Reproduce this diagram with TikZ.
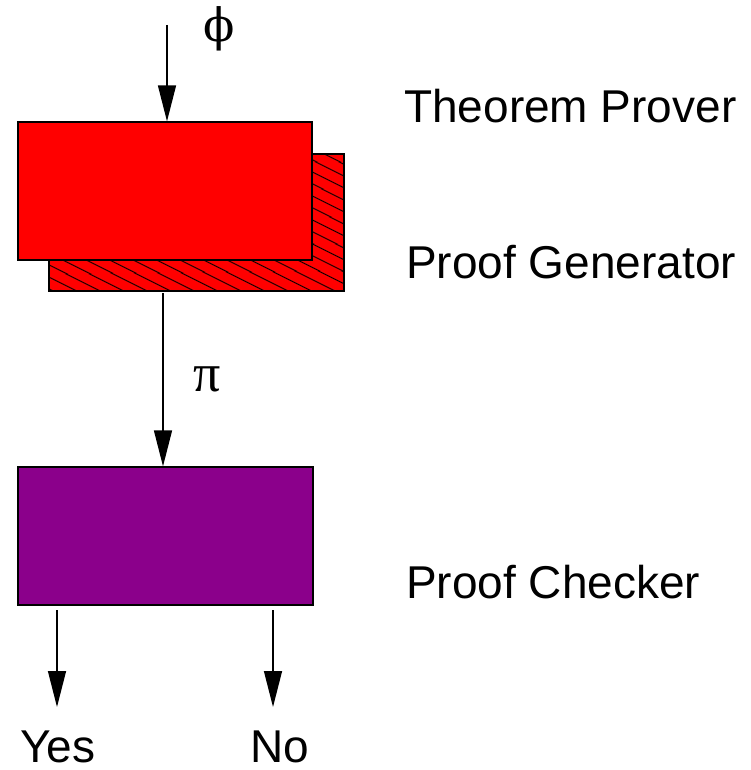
\documentclass[tikz,border=0pt]{standalone}
\usepackage{fontspec}
\setmainfont{Liberation Sans}
\newfontfamily\greekfont{DejaVu Serif}
\newfontfamily\greekb{Liberation Serif}
\usetikzlibrary{arrows.meta,patterns.meta}
\definecolor{boxred}{HTML}{FF0000}
\definecolor{boxpurple}{HTML}{8B008B}
\tikzset{
  box/.style={draw=black, line width=1.3pt, rectangle, inner sep=0pt},
  conn/.style={line width=1.4pt, -{Triangle[length=36pt,width=18pt]}},
  lbl/.style={font=\fontsize{46}{52}\selectfont, inner sep=0pt, anchor=base west},
  io/.style={font=\fontsize{46}{52}\selectfont, inner sep=0pt, anchor=base},
  sym/.style={inner sep=0pt}
}
\begin{document}
\begin{tikzpicture}[x=1pt,y=-1pt]
\useasboundingbox (0,0) rectangle (750,770);
% back hatched box (proof generator)
\node[box, minimum width=295pt, minimum height=137pt,
  preaction={fill=boxred},
  pattern={Lines[angle=-27,distance=10.5pt,line width=1.2pt]}, pattern color=black]
  (gen) at (196.5,222.5) {};
% front box (theorem prover)
\node[box, fill=boxred, minimum width=294pt, minimum height=138pt] (prover) at (165,191) {};
% checker
\node[box, fill=boxpurple, minimum width=295pt, minimum height=138pt] (checker) at (165.5,536) {};

% input
\coordinate (in) at (167,25);
\draw[conn] (in) -- (in |- prover.north);
\node[sym] (phi) at (219,29) {\fontsize{46}{52}\greekfont ϕ};

% proof
\coordinate (p1) at (163,293);
\draw[conn] (p1) -- (p1 |- checker.north);
\node[sym] (pi) at (207,379) {\fontsize{54}{60}\greekb π};

% outputs
\coordinate (y1) at (57,610);
\coordinate (n1) at (273,610);
\coordinate (y2) at (57,707);
\coordinate (n2) at (273,707);
\draw[conn] (y1) -- (y2);
\draw[conn] (n1) -- (n2);
\node[io] (yes) at (58,762) {Yes};
\node[io] (no) at (280,762) {No};

% labels
\node[lbl] (tp) at (404,123) {Theorem Prover};
\node[lbl] (pg) at (406,278) {Proof Generator};
\node[lbl] (pc) at (406,598) {Proof Checker};
\end{tikzpicture}
\end{document}
